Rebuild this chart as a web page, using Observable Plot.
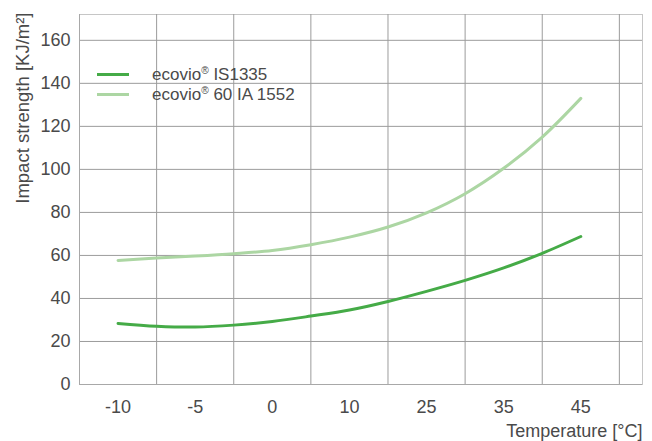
<!DOCTYPE html>
<html>
<head>
<meta charset="utf-8">
<script src="https://cdn.jsdelivr.net/npm/d3@7"></script>
<script src="https://cdn.jsdelivr.net/npm/@observablehq/plot@0.6"></script>
<style>
  body { margin: 0; background: #fff; }
  #wrap { position: relative; width: 652px; height: 441px; font-family: "Liberation Sans", Arial, sans-serif; color: #4a4a4a; }
  #wrap svg { display: block; }
  .sw { position: absolute; left: 97px; width: 32px; height: 3px; }
  .lt { position: absolute; left: 152px; font-size: 17px; line-height: 20px; white-space: nowrap; }
  .lt sup { font-size: 0.6em; line-height: 0; vertical-align: 0.6em; }
</style>
</head>
<body>
<div id="wrap"></div>
<script>
// Categories (equally spaced on the x axis)
const tempLabels = ["-10", "-5", "0", "10", "25", "35", "45"];
// Curve sample positions, in category index units (0 = -10, 6 = 45)
const curvePos = [0, 0.5, 1, 1.5, 2, 2.5, 3, 3.5, 4, 4.5, 5, 5.5, 6];
// Impact strength, KJ/m²
const is1335 = [28.4, 27.1, 26.7, 27.6, 29.3, 31.8, 34.6, 38.6, 43.3, 48.4, 54.2, 61.0, 68.8];
const ia1552 = [57.7, 58.8, 59.7, 60.8, 62.3, 65.0, 68.5, 73.2, 79.8, 88.7, 100.5, 115.0, 133.0];
const yTicks = [0, 20, 40, 60, 80, 100, 120, 140, 160];
const seriesNames = ["ecovio® IS1335", "ecovio® 60 IA 1552"];
const seriesColors = ["#45ab47", "#acd6a3"];
const xTitle = "Temperature [°C]";
const yTitle = "Impact strength [KJ/m²]";

const rows = [];
curvePos.forEach((p, i) => {
  rows.push({pos: p, value: is1335[i], series: seriesNames[0]});
  rows.push({pos: p, value: ia1552[i], series: seriesNames[1]});
});
const tickIdx = tempLabels.map((_, i) => i);
const gridIdx = tempLabels.map((_, i) => i + 0.5);

const chart = Plot.plot({
  width: 652,
  height: 441,
  marginLeft: 79,
  marginRight: 10,
  marginTop: 14,
  marginBottom: 57,
  style: {fontFamily: '"Liberation Sans", Arial, sans-serif', fontSize: "18px", color: "#4a4a4a", background: "#fff"},
  x: {domain: [-0.5, 6.8], axis: null},
  y: {domain: [0, 172], axis: null},
  color: {domain: seriesNames, range: seriesColors},
  marks: [
    Plot.frame({stroke: "#c6c6c6", strokeOpacity: 1}),
    Plot.gridY(yTicks.filter(d => d > 0), {stroke: "#9c9c9c", strokeOpacity: 1}),
    Plot.gridX(gridIdx, {stroke: "#9c9c9c", strokeOpacity: 1}),
    Plot.ruleY([0], {stroke: "#a8a8a8"}),
    Plot.ruleX([-0.5], {stroke: "#a8a8a8"}),
    Plot.axisY(yTicks, {tickSize: 0, tickPadding: 9, fontSize: 18, fill: "#4a4a4a", label: null}),
    Plot.axisX(tickIdx, {tickSize: 0, tickPadding: 16, fontSize: 18, fill: "#4a4a4a", tickFormat: i => tempLabels[i], label: null}),
    Plot.line(rows, {x: "pos", y: "value", z: "series", stroke: "series", strokeWidth: 3, curve: "catmull-rom"}),
    Plot.text([xTitle], {frameAnchor: "bottom-right", textAnchor: "end", lineAnchor: "middle", dy: 47, fontSize: 18, fill: "#4a4a4a"}),
    Plot.text([yTitle], {frameAnchor: "top-left", rotate: -90, textAnchor: "end", lineAnchor: "middle", dx: -56, dy: -2, fontSize: 18.5, fill: "#4a4a4a"})
  ]
});

const wrap = document.getElementById("wrap");
wrap.appendChild(chart);

// Legend (inside the plot area, top-left)
seriesNames.forEach((name, i) => {
  const sw = document.createElement("div");
  sw.className = "sw";
  sw.style.top = (73 + i * 20) + "px";
  sw.style.background = seriesColors[i];
  wrap.appendChild(sw);
  const lt = document.createElement("div");
  lt.className = "lt";
  lt.style.top = (65 + i * 20) + "px";
  const parts = name.split("®");
  lt.appendChild(document.createTextNode(parts[0]));
  const sup = document.createElement("sup");
  sup.textContent = "®";
  lt.appendChild(sup);
  lt.appendChild(document.createTextNode(parts[1]));
  wrap.appendChild(lt);
});
</script>
</body>
</html>
